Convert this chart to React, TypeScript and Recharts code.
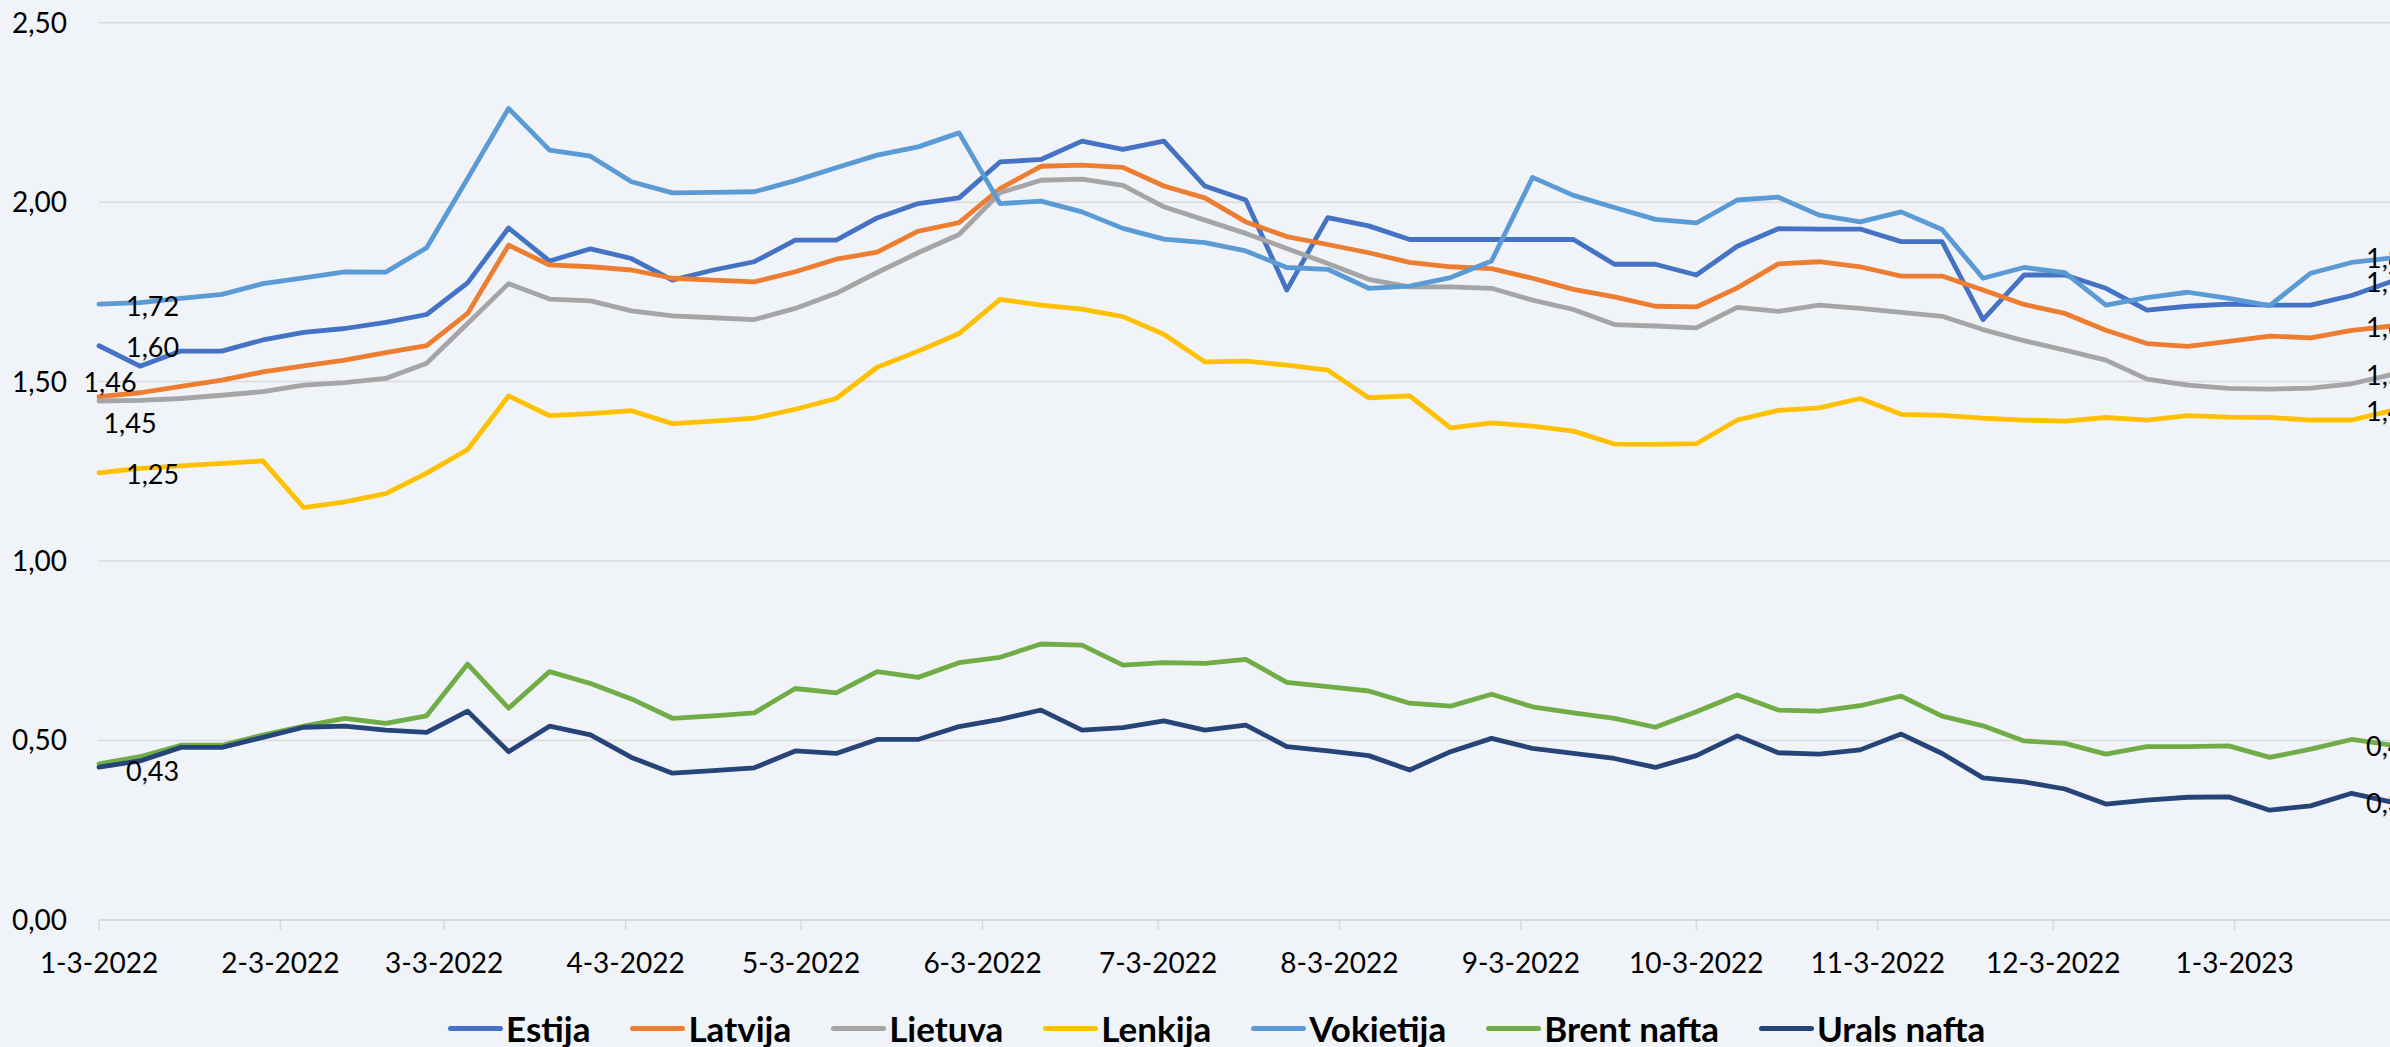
import React from "react";
import { LineChart, Line, XAxis, YAxis, CartesianGrid, LabelList } from "recharts";

// weekly prices, first week starts 2022-01-03
const START = new Date(2022, 0, 3);
const DAY_MS = 86400000;

const estija = [
  1.6, 1.543, 1.585, 1.585, 1.616, 1.637, 1.648, 1.665, 1.687, 1.775, 1.928, 1.836, 1.87, 1.843, 1.783,
  1.811, 1.834, 1.894, 1.894, 1.956, 1.996, 2.012, 2.112, 2.119, 2.17, 2.147, 2.17, 2.045, 2.006, 1.755,
  1.957, 1.934, 1.896, 1.896, 1.896, 1.896, 1.896, 1.827, 1.827, 1.797, 1.877, 1.926, 1.925, 1.925, 1.89,
  1.89, 1.673, 1.797, 1.797, 1.76, 1.699, 1.71, 1.716, 1.713, 1.713, 1.74, 1.78,
];
const latvija = [
  1.458, 1.469, 1.487, 1.504, 1.527, 1.544, 1.56, 1.581, 1.6, 1.69, 1.88, 1.825, 1.82, 1.811, 1.788,
  1.783, 1.778, 1.806, 1.841, 1.861, 1.919, 1.943, 2.038, 2.1, 2.103, 2.097, 2.045, 2.012, 1.945, 1.904,
  1.882, 1.859, 1.832, 1.82, 1.815, 1.788, 1.757, 1.736, 1.71, 1.708, 1.761, 1.828, 1.834, 1.82, 1.794,
  1.794, 1.755, 1.715, 1.69, 1.643, 1.606, 1.598, 1.612, 1.627, 1.622, 1.643, 1.655,
];
const lietuva = [
  1.446, 1.448, 1.453, 1.462, 1.472, 1.49, 1.497, 1.509, 1.551, 1.662, 1.773, 1.73, 1.725, 1.697, 1.683,
  1.678, 1.673, 1.704, 1.746, 1.804, 1.859, 1.91, 2.026, 2.061, 2.064, 2.047, 1.987, 1.95, 1.913, 1.871,
  1.829, 1.785, 1.764, 1.764, 1.76, 1.727, 1.701, 1.659, 1.655, 1.65, 1.707, 1.696, 1.713, 1.704, 1.693,
  1.682, 1.645, 1.614, 1.588, 1.56, 1.507, 1.49, 1.481, 1.479, 1.482, 1.494, 1.52,
];
const lenkija = [
  1.246, 1.258, 1.265, 1.272, 1.279, 1.149, 1.165, 1.188, 1.245, 1.311, 1.46, 1.405, 1.411, 1.419, 1.383,
  1.39, 1.398, 1.423, 1.453, 1.54, 1.585, 1.634, 1.729, 1.713, 1.702, 1.681, 1.632, 1.555, 1.557, 1.546,
  1.532, 1.455, 1.46, 1.371, 1.385, 1.376, 1.362, 1.326, 1.325, 1.327, 1.393, 1.42, 1.427, 1.453, 1.409,
  1.406, 1.398, 1.393, 1.39, 1.4, 1.393, 1.405, 1.401, 1.4, 1.393, 1.393, 1.42,
];
const vokietija = [
  1.716, 1.72, 1.732, 1.743, 1.773, 1.789, 1.806, 1.805, 1.873, 2.066, 2.261, 2.145, 2.128, 2.057, 2.026,
  2.027, 2.029, 2.06, 2.096, 2.131, 2.154, 2.193, 1.996, 2.003, 1.973, 1.927, 1.897, 1.887, 1.864, 1.818,
  1.813, 1.76, 1.766, 1.79, 1.836, 2.069, 2.019, 1.985, 1.952, 1.942, 2.006, 2.014, 1.964, 1.945, 1.973,
  1.924, 1.788, 1.818, 1.804, 1.713, 1.734, 1.749, 1.732, 1.712, 1.802, 1.832, 1.845,
];
const brent = [
  0.435, 0.455, 0.487, 0.487, 0.515, 0.54, 0.562, 0.548, 0.569, 0.713, 0.59, 0.692, 0.659, 0.616, 0.562,
  0.569, 0.577, 0.645, 0.633, 0.692, 0.676, 0.717, 0.732, 0.769, 0.766, 0.71, 0.717, 0.715, 0.726, 0.662,
  0.65, 0.638, 0.604, 0.596, 0.629, 0.594, 0.577, 0.562, 0.537, 0.58, 0.627, 0.585, 0.582, 0.597, 0.624,
  0.568, 0.541, 0.499, 0.492, 0.462, 0.483, 0.483, 0.485, 0.453, 0.476, 0.503, 0.487,
];
const urals = [
  0.426, 0.443, 0.481, 0.481, 0.509, 0.537, 0.54, 0.529, 0.523, 0.582, 0.469, 0.54, 0.516, 0.453, 0.409,
  0.416, 0.424, 0.471, 0.464, 0.503, 0.503, 0.539, 0.559, 0.585, 0.529, 0.536, 0.555, 0.529, 0.543, 0.483,
  0.471, 0.458, 0.418, 0.469, 0.506, 0.478, 0.464, 0.45, 0.425, 0.458, 0.513, 0.466, 0.462, 0.474, 0.518,
  0.464, 0.396, 0.385, 0.365, 0.323, 0.334, 0.342, 0.343, 0.306, 0.318, 0.353, 0.328,
];

const tickLabels = [
  "1-3-2022", "2-3-2022", "3-3-2022", "4-3-2022", "5-3-2022", "6-3-2022", "7-3-2022",
  "8-3-2022", "9-3-2022", "10-3-2022", "11-3-2022", "12-3-2022", "1-3-2023",
];
const yTicks = [0, 0.5, 1, 1.5, 2, 2.5];

const daysFromStart = (d: Date) => Math.round((d.getTime() - START.getTime()) / DAY_MS);
const tickDays = tickLabels.map((l) => {
  const [m, d, y] = l.split("-").map(Number);
  return daysFromStart(new Date(y, m - 1, d));
});

const data = estija.map((_, i) => ({
  day: i * 7,
  estija: estija[i],
  latvija: latvija[i],
  lietuva: lietuva[i],
  lenkija: lenkija[i],
  vokietija: vokietija[i],
  brent: brent[i],
  urals: urals[i],
}));
const lastIndex = data.length - 1;
const lastDay = data[lastIndex].day;

type LabelPos = { dx: number; dy: number; anchor: "start" | "middle" | "end" } | null;

const series: { key: string; name: string; color: string; first: LabelPos }[] = [
  { key: "estija", name: "Estija", color: "#4472C4", first: { dx: 27, dy: 2, anchor: "start" } },
  { key: "latvija", name: "Latvija", color: "#ED7D31", first: { dx: 11, dy: -14, anchor: "middle" } },
  { key: "lietuva", name: "Lietuva", color: "#A5A5A5", first: { dx: 31, dy: 22, anchor: "middle" } },
  { key: "lenkija", name: "Lenkija", color: "#FFC000", first: { dx: 27, dy: 2, anchor: "start" } },
  { key: "vokietija", name: "Vokietija", color: "#5B9BD5", first: { dx: 27, dy: 2, anchor: "start" } },
  { key: "brent", name: "Brent nafta", color: "#70AD47", first: null },
  { key: "urals", name: "Urals nafta", color: "#264478", first: { dx: 27, dy: 4, anchor: "start" } },
];

const FONT = "Lato, 'Liberation Sans', sans-serif";
const fmt = (v: number) => v.toFixed(2).replace(".", ",");

function endLabel(first: LabelPos) {
  return (props: any) => {
    const { x, y, value, index } = props;
    let pos: LabelPos = null;
    if (index === 0) pos = first;
    else if (index === lastIndex) pos = { dx: 0, dy: 1, anchor: "middle" };
    if (!pos) return null;
    return (
      <text
        x={x + pos.dx}
        y={y + pos.dy + 9.7}
        textAnchor={pos.anchor}
        fontSize={27}
        fontFamily={FONT}
        fill="#000"
      >
        {fmt(value)}
      </text>
    );
  };
}

export default function App() {
  return (
    <div
      style={{
        width: 2390,
        height: 1047,
        overflow: "hidden",
        position: "relative",
        background: "#F0F3F7",
      }}
    >
      <style>{"body{margin:0;overflow:hidden}"}</style>
      <LineChart
        width={2400}
        height={1047}
        data={data}
        margin={{ top: 22.7, right: 7.4, bottom: 0, left: 0 }}
      >
        <CartesianGrid vertical={false} stroke="#D9D9D9" strokeWidth={1.5} />
        <XAxis
          type="number"
          dataKey="day"
          domain={[0, lastDay]}
          ticks={tickDays}
          interval={0}
          tickFormatter={(d) => tickLabels[tickDays.indexOf(d)]}
          height={127}
          axisLine={{ stroke: "#D9D9D9", strokeWidth: 2 }}
          tickLine={{ stroke: "#D9D9D9", strokeWidth: 1.5 }}
          tickSize={10}
          tickMargin={23}
          tick={{ fontSize: 28, fill: "#000", fontFamily: FONT }}
        />
        <YAxis
          domain={[0, 2.5]}
          ticks={yTicks}
          width={99}
          axisLine={false}
          tickLine={false}
          tickSize={0}
          tickMargin={32}
          tickFormatter={fmt}
          tick={{ fontSize: 28, fill: "#000", fontFamily: FONT }}
        />
        {series.map((s) => (
          <Line
            key={s.key}
            type="linear"
            dataKey={s.key}
            name={s.name}
            stroke={s.color}
            strokeWidth={4.8}
            strokeLinecap="round"
            strokeLinejoin="round"
            dot={false}
            activeDot={false}
            isAnimationActive={false}
          >
            <LabelList dataKey={s.key} content={endLabel(s.first)} />
          </Line>
        ))}
      </LineChart>
      <div
        style={{
          position: "absolute",
          left: 448,
          top: 1028,
          transform: "translateY(-50%)",
          display: "flex",
          alignItems: "center",
          fontFamily: FONT,
          fontWeight: 700,
          fontSize: 35,
          color: "#000",
          whiteSpace: "nowrap",
        }}
      >
        {series.map((s) => (
          <div key={s.key} style={{ display: "flex", alignItems: "center", marginRight: 40 }}>
            <span
              style={{
                display: "inline-block",
                width: 55,
                height: 5,
                borderRadius: 3,
                background: s.color,
                marginRight: 3,
              }}
            />
            <span>{s.name}</span>
          </div>
        ))}
      </div>
    </div>
  );
}
